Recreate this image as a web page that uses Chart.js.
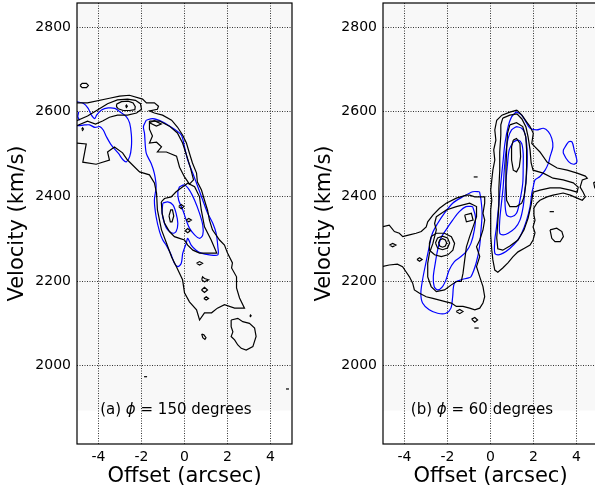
<!DOCTYPE html>
<html lang="en">
<head>
<meta charset="UTF-8" />
<title>PV diagrams</title>
<script src="https://cdn.jsdelivr.net/npm/chart.js@4.4.0/dist/chart.umd.min.js"></script>
<style>
html, body { margin: 0; padding: 0; background: #fff; overflow: hidden; width: 595px; height: 497px; }
#chartA { position: absolute; left: 0; top: 0; }
#chartB { position: absolute; left: 300px; top: 0; }
</style>
</head>
<body>
<canvas id="chartA" width="300" height="497"></canvas>
<canvas id="chartB" width="310" height="497"></canvas>
<script>
// ticks
var xTicks = [-4, -2, 0, 2, 4];
var yTicks = [2000, 2200, 2400, 2600, 2800];

// contours, [offset arcsec, velocity km/s]
// ---- panel (a), phi = 150
var aOuter = [[-5.05,2526],[-4.57,2524],[-4.73,2481],[-4.11,2476],[-3.49,2486],[-3.58,2505],[-3.26,2517],[-2.88,2503],[-2.65,2486],[-2.09,2458],[-1.63,2451],[-1.40,2432],[-1.30,2408],[-1.26,2368],[-1.07,2321],[-0.84,2290],[-0.60,2257],[-0.37,2233],[-0.09,2203],[0,2172],[0.23,2151],[0.56,2132],[0.70,2108],[0.93,2125],[1.26,2125],[1.53,2136],[1.86,2144],[2.33,2136],[2.79,2136],[2.56,2160],[2.42,2184],[2.42,2210],[2.19,2231],[2.23,2243],[2.00,2266],[1.86,2285],[1.63,2297],[1.30,2321],[1.16,2344],[1.07,2368],[0.93,2391],[0.79,2415],[0.60,2434],[0.56,2455],[0.37,2479],[0.23,2502],[0.09,2526],[-0.09,2545],[-0.33,2564],[-0.60,2580],[-1.02,2592],[-1.40,2597],[-1.63,2602],[-1.26,2606],[-1.21,2613],[-1.40,2621],[-1.77,2621],[-1.95,2630],[-2.56,2639],[-3.02,2637],[-3.49,2632],[-4.51,2621],[-5.05,2621]];
var aL2Top = [[-5.05,2578],[-4.51,2590],[-4.05,2604],[-3.58,2619],[-3.12,2628],[-2.65,2630],[-2.28,2627],[-2.05,2619],[-2.00,2606],[-2.23,2597],[-2.65,2592],[-3.12,2592],[-3.49,2587],[-3.81,2578],[-4.14,2571],[-4.51,2578],[-5.05,2566]];
var aPeak = [[-3.16,2618],[-2.93,2624],[-2.62,2625],[-2.39,2621],[-2.29,2612],[-2.31,2605],[-2.55,2603],[-2.85,2603],[-3.08,2607],[-3.16,2612]];
var aL2Upper = [[-1.63,2578],[-1.16,2578],[-0.70,2566],[-0.33,2550],[-0.09,2526],[0.09,2498],[0.28,2467],[0.42,2439],[0.23,2429],[0,2446],[-0.23,2469],[-0.37,2495],[-0.84,2505],[-1.26,2505],[-1.07,2517],[-1.30,2528],[-1.63,2526],[-1.49,2543],[-1.63,2559]];
var aL2Lower = [[-1.08,2387],[-0.93,2395],[-0.62,2399],[-0.39,2411],[-0.08,2423],[0.15,2431],[0.47,2423],[0.70,2399],[0.78,2368],[0.93,2328],[1.24,2297],[1.50,2266],[1.16,2266],[0.70,2266],[0.39,2273],[0.15,2285],[0,2297],[-0.23,2301],[-0.47,2305],[-0.70,2317],[-0.93,2337],[-1.04,2360]];
var aIsland = [[2.17,2108],[2.48,2112],[2.71,2104],[3.02,2100],[3.26,2089],[3.33,2069],[3.18,2045],[2.87,2037],[2.64,2041],[2.48,2049],[2.33,2061],[2.17,2069],[2.25,2080],[2.17,2092]];
var aSmall = [
  [[-4.86,2662],[-4.76,2667],[-4.56,2667],[-4.47,2662],[-4.56,2657],[-4.76,2657]],
  [[-2.74,2613],[-2.70,2616],[-2.66,2613],[-2.70,2610]],
  [[-1.63,2574],[-1.40,2579],[-1.08,2571],[-1.31,2566]],
  [[-4.78,2559],[-4.74,2562],[-4.70,2559],[-4.74,2556]],
  [[-0.72,2354],[-0.66,2340],[-0.58,2340],[-0.50,2354],[-0.56,2368],[-0.64,2368]],
  [[-0.27,2376],[-0.15,2381],[-0.03,2376],[-0.15,2371]],
  [[0.08,2344],[0.20,2348],[0.32,2344],[0.20,2340]],
  [[0.03,2319],[0.15,2324],[0.27,2319],[0.15,2314]],
  [[0.56,2242],[0.70,2246],[0.84,2242],[0.70,2238]],
  [[0.80,2203],[0.84,2210],[0.93,2206],[1.12,2203],[0.93,2198]],
  [[0.79,2179],[0.93,2185],[1.07,2179],[0.93,2173]],
  [[0.90,2159],[1.01,2163],[1.12,2159],[1.01,2155]],
  [[0.80,2075],[0.90,2073],[1.00,2066],[0.95,2062],[0.85,2066]],
  [[3.04,2118],[3.07,2120],[3.10,2118],[3.07,2116]]
];
var aDashes = [[[-1.88,1974],[-1.74,1974]], [[4.72,1945],[4.86,1945]]];
var aBlue1 = [[-5.05,2624],[-4.71,2620],[-4.48,2608],[-4.33,2592],[-4.17,2584],[-4.09,2592],[-3.86,2604],[-3.55,2609],[-3.24,2608],[-3.01,2600],[-2.70,2588],[-2.55,2573],[-2.47,2545],[-2.47,2517],[-2.55,2494],[-2.70,2482],[-2.85,2486],[-3.08,2502],[-3.40,2521],[-3.63,2541],[-3.78,2557],[-3.94,2565],[-4.17,2563],[-4.41,2569],[-4.64,2569],[-5.05,2569]];
var aBlueArc = [[-4.92,2600],[-4.96,2588],[-4.88,2580]];
var aBlue2 = [[-1.78,2580],[-1.48,2584],[-1.01,2576],[-0.54,2561],[-0.15,2545],[0,2517],[0.15,2486],[0.39,2454],[0.62,2423],[0.85,2391],[1.08,2360],[1.32,2336],[1.47,2313],[1.55,2281],[1.55,2262],[1.16,2262],[0.78,2266],[0.54,2273],[0.31,2285],[0.15,2301],[0.08,2289],[-0.08,2266],[-0.15,2242],[-0.31,2234],[-0.47,2242],[-0.62,2262],[-0.85,2285],[-1.01,2297],[-1.16,2317],[-1.32,2352],[-1.40,2391],[-1.32,2423],[-1.40,2454],[-1.55,2478],[-1.78,2502],[-1.86,2549],[-1.91,2565]];
var aBlue3a = [[-1.01,2384],[-0.78,2387],[-0.54,2380],[-0.39,2360],[-0.31,2336],[-0.39,2317],[-0.54,2313],[-0.78,2321],[-0.93,2336],[-1.04,2360]];
var aBlue3b = [[-0.23,2423],[0,2427],[0.23,2415],[0.47,2391],[0.70,2360],[0.85,2332],[0.85,2309],[0.70,2301],[0.47,2309],[0.23,2325],[0.08,2344],[-0.08,2368],[-0.27,2391],[-0.31,2411]];

// ---- panel (b), phi = 60
var bOuterLeft = [[-5.05,2328],[-4.71,2332],[-4.47,2317],[-4.24,2313],[-4.08,2305],[-3.77,2309],[-3.46,2313],[-3.22,2317],[-2.99,2328],[-2.92,2340],[-2.68,2356],[-2.37,2372],[-2.06,2384],[-1.59,2396],[-1.12,2403],[-0.97,2403],[-0.73,2399],[-0.27,2399],[-0.27,2384],[-0.35,2360],[-0.27,2344],[-0.35,2321],[-0.50,2297],[-0.65,2281],[-0.50,2258],[-0.65,2234],[-0.50,2210],[-0.35,2187],[-0.27,2163],[-0.35,2148],[-0.50,2136],[-0.73,2132],[-0.97,2136],[-1.28,2140],[-1.59,2140],[-1.82,2148],[-2.06,2151],[-2.37,2155],[-2.68,2159],[-2.99,2163],[-3.30,2171],[-3.54,2179],[-3.62,2195],[-3.77,2210],[-3.93,2222],[-4.09,2234],[-4.33,2240],[-4.71,2238],[-5.05,2234]];
var bL2Left = [[-2.52,2352],[-2.06,2368],[-1.59,2376],[-0.97,2384],[-0.65,2376],[-0.65,2352],[-0.81,2328],[-0.97,2305],[-1.12,2281],[-1.20,2250],[-1.28,2218],[-1.36,2199],[-1.59,2199],[-1.82,2191],[-2.14,2179],[-2.52,2175],[-2.76,2187],[-2.92,2210],[-2.92,2242],[-2.84,2266],[-2.68,2289],[-2.52,2321],[-2.60,2336]];
var bL3Left = [[-2.76,2305],[-2.52,2313],[-2.14,2313],[-1.82,2305],[-1.67,2289],[-1.75,2273],[-1.98,2262],[-2.29,2258],[-2.60,2262],[-2.84,2273],[-2.84,2289]];
var bRing1 = [[-2.56,2290],[-2.46,2302],[-2.23,2306],[-2.00,2302],[-1.90,2290],[-2.00,2278],[-2.23,2274],[-2.46,2278]];
var bRing2 = [[-2.42,2290],[-2.36,2297],[-2.23,2300],[-2.10,2297],[-2.04,2290],[-2.10,2283],[-2.23,2280],[-2.36,2283]];
var bTri = [[-1.20,2356],[-0.89,2360],[-0.81,2344],[-1.12,2340]];
var bOuterRight = [[1.23,2604],[1.46,2592],[1.68,2576],[1.84,2565],[1.99,2549],[1.92,2525],[2.07,2517],[2.30,2505],[2.63,2481],[3.10,2467],[3.57,2462],[4.03,2455],[4.41,2448],[4.50,2443],[4.27,2439],[4.17,2422],[4.31,2410],[4.41,2399],[4.27,2391],[4.03,2396],[3.71,2403],[3.38,2408],[2.91,2403],[2.63,2399],[2.30,2391],[2.16,2384],[2.02,2373],[2.02,2356],[2.07,2344],[1.98,2328],[2.07,2314],[1.98,2297],[1.84,2285],[1.60,2278],[1.28,2269],[1.04,2257],[0.81,2243],[0.57,2231],[0.34,2221],[0.20,2226],[0.11,2250],[0.06,2273],[0.01,2309],[0.01,2344],[0.01,2368],[0.06,2391],[0.01,2415],[0.06,2439],[0.11,2462],[0.20,2486],[0.15,2510],[0.25,2533],[0.20,2557],[0.29,2580],[0.53,2592],[0.90,2599]];
var bL2Right = [[0.57,2585],[0.90,2592],[1.23,2595],[1.46,2583],[1.65,2564],[1.75,2540],[1.84,2510],[1.89,2479],[1.98,2462],[2.45,2455],[2.91,2443],[3.38,2439],[3.85,2432],[4.08,2422],[4.03,2410],[3.71,2415],[3.24,2420],[2.77,2420],[2.30,2415],[1.98,2410],[1.89,2380],[1.75,2349],[1.56,2321],[1.28,2297],[0.90,2283],[0.57,2273],[0.34,2276],[0.29,2302],[0.34,2340],[0.39,2380],[0.39,2420],[0.43,2462],[0.43,2505],[0.48,2545],[0.48,2569]];
var bL3Right = [[0.90,2569],[1.21,2574],[1.50,2565],[1.64,2541],[1.68,2510],[1.68,2470],[1.65,2431],[1.56,2399],[1.45,2384],[1.21,2376],[0.90,2376],[0.75,2391],[0.72,2431],[0.72,2470],[0.75,2510],[0.79,2549]];
var bL4Right = [[1.06,2533],[1.21,2537],[1.37,2525],[1.40,2494],[1.34,2470],[1.21,2458],[1.06,2462],[0.98,2486],[0.98,2517]];
var bIsland = [[2.77,2321],[3.08,2325],[3.32,2317],[3.39,2305],[3.24,2293],[3.00,2293],[2.85,2301]];
var bSmall = [
  [[-4.70,2285],[-4.55,2289],[-4.40,2285],[-4.55,2281]],
  [[-3.42,2251],[-3.30,2255],[-3.18,2251],[-3.30,2247]],
  [[-1.60,2128],[-1.43,2133],[-1.28,2128],[-1.43,2123]],
  [[-0.88,2110],[-0.73,2114],[-0.60,2108],[-0.73,2103]]
];
var bDashes = [[[-0.75,2089],[-0.55,2089]], [[-0.78,2446],[-0.60,2446]], [[2.75,2364],[2.95,2364]], [[5.05,2440],[4.80,2432],[4.85,2420],[5.05,2415]]];
var bBlueOuterR = [[1.21,2600],[1.45,2592],[1.68,2573],[1.84,2561],[2.15,2557],[2.46,2561],[2.69,2553],[2.85,2537],[2.90,2517],[2.77,2494],[2.69,2478],[2.54,2462],[2.30,2447],[2.07,2439],[1.99,2423],[1.92,2407],[1.84,2376],[1.68,2344],[1.45,2313],[1.21,2293],[0.90,2277],[0.59,2266],[0.36,2262],[0.20,2266],[0.20,2297],[0.28,2328],[0.36,2368],[0.43,2407],[0.51,2447],[0.59,2486],[0.67,2525],[0.82,2565],[0.98,2588]];
var bBlueMidR = [[1.21,2565],[1.45,2561],[1.60,2549],[1.68,2525],[1.71,2494],[1.68,2454],[1.60,2415],[1.52,2376],[1.37,2344],[1.14,2325],[0.82,2313],[0.59,2309],[0.43,2313],[0.43,2344],[0.51,2384],[0.59,2423],[0.64,2462],[0.71,2502],[0.82,2537],[0.98,2557]];
var bBlueInR = [[1.06,2529],[1.29,2533],[1.45,2525],[1.52,2502],[1.52,2470],[1.50,2431],[1.37,2391],[1.21,2360],[0.98,2352],[0.75,2356],[0.67,2391],[0.71,2431],[0.78,2470],[0.87,2510]];
var bBlueIsland = [[3.39,2510],[3.63,2529],[3.79,2529],[3.89,2510],[4.02,2482],[3.86,2476],[3.63,2482],[3.39,2502]];
var bBlueOuterL = [[-0.51,2411],[-0.83,2411],[-1.29,2399],[-1.76,2384],[-2.15,2360],[-2.46,2336],[-2.70,2313],[-2.85,2281],[-3.01,2242],[-3.16,2203],[-3.24,2171],[-3.16,2148],[-2.85,2132],[-2.46,2124],[-2.07,2124],[-1.84,2136],[-1.76,2163],[-1.68,2195],[-1.37,2203],[-1.06,2207],[-0.91,2210],[-0.67,2242],[-0.51,2281],[-0.44,2321],[-0.39,2360],[-0.44,2391]];
var bBlueInL = [[-0.83,2376],[-1.14,2376],[-1.45,2364],[-1.76,2344],[-2.07,2321],[-2.31,2301],[-2.46,2273],[-2.57,2242],[-2.66,2210],[-2.62,2187],[-2.46,2179],[-2.23,2187],[-2.07,2203],[-1.92,2226],[-1.68,2246],[-1.37,2258],[-1.14,2269],[-0.91,2289],[-0.75,2321],[-0.70,2352]];

var NEGRO = '#000000';
var AZUL = '#0000ff';

function linea(puntos, color, cerrar) {
    var pts = puntos.map(function (p) { return {x: p[0], y: p[1]}; });
    if (cerrar) pts.push({x: puntos[0][0], y: puntos[0][1]});
    return {
        data: pts, showLine: true, fill: false,
        borderColor: color, borderWidth: 1.2,
        pointRadius: 0, pointHoverRadius: 0,
        tension: color === AZUL ? 0.3 : 0
    };
}

var fondo = {
    id: 'fondo',
    beforeDraw: function (chart, args, opts) {
        var ctx = chart.ctx, a = chart.chartArea;
        var yb = chart.scales.y.getPixelForValue(1894);
        ctx.save();
        ctx.fillStyle = '#f8f8f8';
        ctx.fillRect(a.left, a.top, a.right - a.left, yb - a.top);
        ctx.restore();
    },
    afterDatasetsDraw: function (chart, args, opts) {
        var ctx = chart.ctx, a = chart.chartArea;
        ctx.save();
        ctx.strokeStyle = '#000';
        ctx.lineWidth = 1.2;
        ctx.strokeRect(a.left, a.top, a.right - a.left, a.bottom - a.top);
        // panel label
        var normal = '15px "DejaVu Sans"';
        var italica = 'italic 15px "DejaVu Sans"';
        var partes = [[opts.letra + ' ', normal], ['\u03d5', italica], [' = ' + opts.angulo + ' degrees', normal]];
        var total = 0;
        partes.forEach(function (p) { ctx.font = p[1]; total += ctx.measureText(p[0]).width; });
        var x = chart.scales.x.getPixelForValue(-0.4) - total / 2;
        var y = chart.scales.y.getPixelForValue(1896);
        ctx.fillStyle = '#000';
        ctx.textBaseline = 'middle';
        ctx.textAlign = 'left';
        partes.forEach(function (p) { ctx.font = p[1]; ctx.fillText(p[0], x, y); x += ctx.measureText(p[0]).width; });
        ctx.restore();
    }
};

function sinMargen(s) {
    s.paddingTop = 0; s.paddingBottom = 0; s.paddingLeft = 0; s.paddingRight = 0;
}

function opciones(anchoY, margenDer, padTitulo, letra, angulo) {
    return {
        responsive: false,
        animation: false,
        devicePixelRatio: 1,
        layout: {padding: {top: 3, right: margenDer, left: 0, bottom: 0}},
        plugins: {
            legend: {display: false},
            tooltip: {enabled: false},
            fondo: {letra: letra, angulo: angulo}
        },
        scales: {
            x: {
                type: 'linear', min: -5, max: 5,
                afterBuildTicks: function (s) { s.ticks = xTicks.map(function (v) { return {value: v}; }); },
                afterFit: function (s) { s.height = 53; sinMargen(s); },
                ticks: {color: '#000', font: {family: 'DejaVu Sans', size: 14}, padding: 5,
                        callback: function (v) { return String(v); }},
                grid: {color: '#000', lineWidth: 0.8, drawTicks: false},
                border: {display: false, dash: [1, 1.5]},
                title: {display: true, text: 'Offset (arcsec)', color: '#000',
                        font: {family: 'DejaVu Sans', size: 21}, padding: {top: 0, bottom: 8}}
            },
            y: {
                type: 'linear', min: 1815, max: 2857,
                afterBuildTicks: function (s) { s.ticks = yTicks.map(function (v) { return {value: v}; }); },
                afterFit: function (s) { s.width = anchoY; sinMargen(s); },
                ticks: {color: '#000', font: {family: 'DejaVu Sans', size: 14}, padding: 6,
                        callback: function (v) { return String(v); }},
                grid: {color: '#000', lineWidth: 0.8, drawTicks: false},
                border: {display: false, dash: [1, 1.5]},
                title: {display: true, text: 'Velocity (km/s)', color: '#000',
                        font: {family: 'DejaVu Sans', size: 21}, padding: {top: padTitulo, bottom: 0}}
            }
        }
    };
}

var dsA = [
    linea(aOuter, NEGRO, true), linea(aL2Top, NEGRO, true), linea(aPeak, NEGRO, true),
    linea(aL2Upper, NEGRO, true), linea(aL2Lower, NEGRO, true), linea(aIsland, NEGRO, true)
];
aSmall.forEach(function (s) { dsA.push(linea(s, NEGRO, true)); });
aDashes.forEach(function (s) { dsA.push(linea(s, NEGRO, false)); });
dsA.push(linea(aBlue1, AZUL, true), linea(aBlueArc, AZUL, false), linea(aBlue2, AZUL, true),
         linea(aBlue3a, AZUL, true), linea(aBlue3b, AZUL, true));

var dsB = [
    linea(bOuterLeft, NEGRO, true), linea(bL2Left, NEGRO, true), linea(bL3Left, NEGRO, true),
    linea(bRing1, NEGRO, true), linea(bRing2, NEGRO, true), linea(bTri, NEGRO, true),
    linea(bOuterRight, NEGRO, true), linea(bL2Right, NEGRO, true), linea(bL3Right, NEGRO, true),
    linea(bL4Right, NEGRO, true), linea(bIsland, NEGRO, true)
];
bSmall.forEach(function (s) { dsB.push(linea(s, NEGRO, true)); });
bDashes.forEach(function (s) { dsB.push(linea(s, NEGRO, false)); });
dsB.push(linea(bBlueOuterR, AZUL, true), linea(bBlueMidR, AZUL, true), linea(bBlueInR, AZUL, true),
         linea(bBlueIsland, AZUL, true), linea(bBlueOuterL, AZUL, true), linea(bBlueInL, AZUL, true));

new Chart(document.getElementById('chartA'), {
    type: 'scatter',
    data: {datasets: dsA},
    options: opciones(77, 8, 5, '(a)', '150'),
    plugins: [fondo]
});
new Chart(document.getElementById('chartB'), {
    type: 'scatter',
    data: {datasets: dsB},
    options: opciones(83, 12, 12, '(b)', '60'),
    plugins: [fondo]
});
</script>
</body>
</html>
